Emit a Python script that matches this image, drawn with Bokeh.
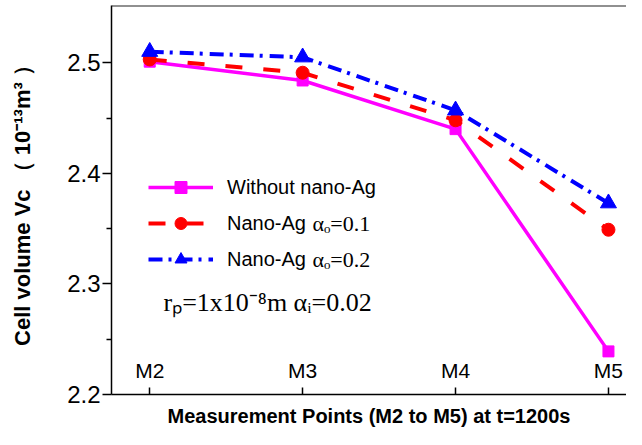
from bokeh.plotting import figure
from bokeh.models import Range1d, FixedTicker, Span, Legend, LegendItem, Label
from bokeh.embed import file_html
from bokeh.resources import INLINE

categories = ["M2", "M3", "M4", "M5"]
x_pos = [2, 3, 4, 5]
without_ag = [2.501, 2.484, 2.440, 2.239]
ag_01 = [2.503, 2.491, 2.448, 2.349]
ag_02 = [2.510, 2.505, 2.457, 2.373]
y_ticks = [2.2, 2.3, 2.4, 2.5]
y_minor = [2.25, 2.35, 2.45]
series_names = ["Without nano-Ag", "Nano-Ag", "Nano-Ag"]
alpha_o_text = ["", "\u03b1\u2092=0.1", "\u03b1\u2092=0.2"]
param_text = "r\u209a=1x10\u207b\u2078m  \u03b1\u1d62=0.02"

SANS = "Liberation Sans"
SERIF = "Liberation Serif"
Y_TOP = 2.5518

p = figure(width=626, height=429, output_backend="svg", toolbar_location=None,
           x_range=Range1d(1.75, 5.118), y_range=Range1d(2.2, Y_TOP),
           min_border_left=111, min_border_right=0, min_border_top=5,
           min_border_bottom=32)
p.outline_line_color = None
p.grid.visible = False
p.background_fill_color = "white"

# y axis
ya = p.yaxis[0]
ya.ticker = FixedTicker(ticks=y_ticks, minor_ticks=y_minor)
ya.major_tick_in = 0
ya.major_tick_out = 9
ya.minor_tick_in = 0
ya.minor_tick_out = 5
ya.axis_line_width = 1.5
ya.axis_line_color = "black"
ya.major_tick_line_width = 1.5
ya.major_tick_line_color = "black"
ya.minor_tick_line_width = 1.5
ya.minor_tick_line_color = "black"
ya.major_label_text_font = SANS
ya.major_label_text_font_size = "24px"
ya.major_label_text_color = "black"
ya.major_label_standoff = 2
ya.axis_label = "Cell volume Vc \uff08 10\u207b\u00b9\u00b3m\u00b3 \uff09"
ya.axis_label_text_font = SANS
ya.axis_label_text_font_style = "bold"
ya.axis_label_text_font_size = "22px"
ya.axis_label_text_color = "black"
ya.axis_label_standoff = 29

# x axis (tick labels drawn inside the frame)
xa = p.xaxis[0]
xa.ticker = FixedTicker(ticks=x_pos, minor_ticks=[])
xa.major_label_overrides = {x: c for x, c in zip(x_pos, categories)}
xa.major_tick_in = 7
xa.major_tick_out = 0
xa.axis_line_width = 1.5
xa.axis_line_color = "black"
xa.major_tick_line_width = 1.5
xa.major_tick_line_color = "black"
xa.major_label_text_font = SANS
xa.major_label_text_font_size = "21px"
xa.major_label_text_color = "black"
xa.major_label_standoff = -36
xa.axis_label = "Measurement Points (M2 to M5) at t=1200s"
xa.axis_label_text_font = SANS
xa.axis_label_text_font_style = "bold"
xa.axis_label_text_font_size = "20px"
xa.axis_label_text_color = "black"
xa.axis_label_standoff = 20

p.add_layout(Span(location=Y_TOP, dimension="width", line_color="#222222", line_width=2))

# series
l1 = p.line(x_pos, without_ag, line_color="#FF00FF", line_width=3.5)
s1 = p.scatter(x_pos, without_ag, marker="square", size=11, color="#FF00FF")
l2 = p.line(x_pos, ag_01, line_color="#FF0000", line_width=4, line_dash="17 21")
s2 = p.scatter(x_pos, ag_01, marker="circle", size=13, color="#FF0000")
l3 = p.line(x_pos, ag_02, line_color="#0000FF", line_width=4, line_dash="14 6 3 7")
s3 = p.scatter(x_pos, ag_02, marker="triangle", size=16, color="#0000FF")

legend = Legend(items=[LegendItem(label=series_names[0], renderers=[l1, s1]),
                       LegendItem(label=series_names[1], renderers=[l2, s2]),
                       LegendItem(label=series_names[2], renderers=[l3, s3])],
                location=(37, 120), glyph_width=65, glyph_height=30,
                label_height=30, spacing=6, padding=0, margin=0,
                label_standoff=14, label_text_font=SANS,
                label_text_font_size="20px", label_text_color="black",
                border_line_color=None, background_fill_alpha=0)
p.add_layout(legend, "center")

# serif parts of the legend labels (alpha_o values)
row_y = [0, 171, 135]
for i in (1, 2):
    p.add_layout(Label(x=201, y=row_y[i], x_units="screen", y_units="screen",
                       text=alpha_o_text[i], text_font=SERIF, text_font_size="22px",
                       text_color="black", text_baseline="middle"))

p.add_layout(Label(x=52, y=92, x_units="screen", y_units="screen",
                   text=param_text, text_font=SERIF, text_font_size="26px",
                   text_color="black", text_baseline="alphabetic"))

open("out.html", "w").write(file_html(p, INLINE))
